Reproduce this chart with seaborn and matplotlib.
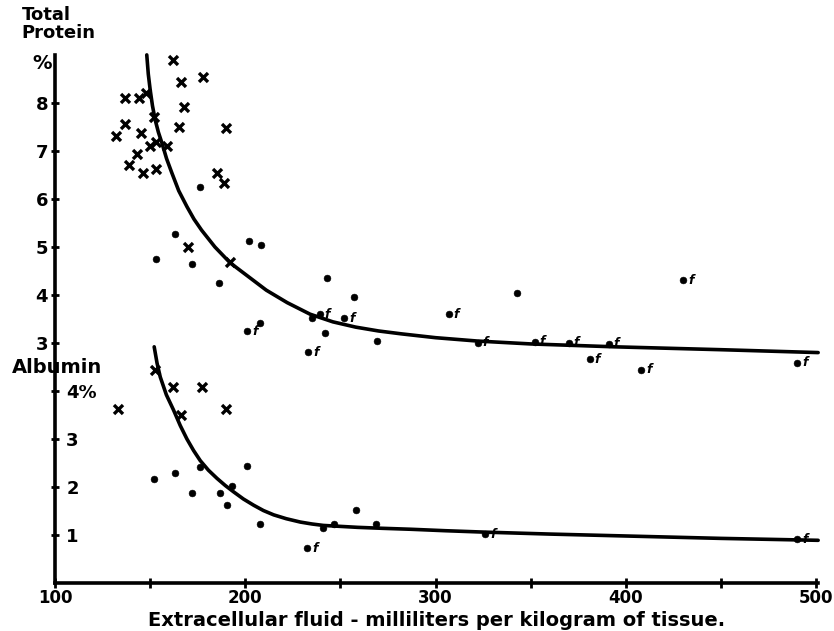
import pandas as pd
import seaborn as sns
import matplotlib.pyplot as plt
import matplotlib.transforms as mtransforms

# Total protein (%) - upper part of the chart
tp_cross_x = [162, 166, 178, 137, 144, 148, 168, 152, 137, 132, 145, 165, 190,
              150, 153, 159, 143, 139, 146, 153, 185, 189, 170, 192]
tp_cross_y = [8.9, 8.44, 8.54, 8.1, 8.1, 8.21, 7.92, 7.71, 7.56, 7.31, 7.38, 7.5, 7.48,
              7.1, 7.19, 7.1, 6.94, 6.71, 6.54, 6.63, 6.54, 6.33, 5.0, 4.69]
tp_dot_x = [176, 163, 153, 172, 186, 202, 208, 243, 257, 235, 242, 207.5, 269, 343]
tp_dot_y = [6.25, 5.27, 4.75, 4.65, 4.25, 5.13, 5.04, 4.35, 3.96, 3.53, 3.21, 3.41, 3.05, 4.04]
tp_f_x = [239, 252, 201, 233, 307, 322, 352, 370, 391, 381, 408, 430, 490]
tp_f_y = [3.6, 3.51, 3.24, 2.81, 3.6, 3.0, 3.03, 3.0, 2.98, 2.66, 2.44, 4.31, 2.59]
tp_curve_x = [148.2, 149, 150, 151.2, 152.6, 154.3, 156.2, 158.6, 161.4, 165, 169.3,
              173, 177, 184, 192, 200, 211, 222, 234, 246, 258, 270, 282, 300,
              322, 350, 394, 450, 501]
tp_curve_y = [9.0, 8.6, 8.27, 7.94, 7.65, 7.39, 7.16, 6.84, 6.54, 6.17, 5.84,
              5.58, 5.35, 5.0, 4.67, 4.43, 4.1, 3.84, 3.6, 3.44, 3.33, 3.25, 3.19, 3.11,
              3.04, 2.98, 2.92, 2.86, 2.80]

# Albumin (%) - lower part of the chart
alb_cross_x = [152.6, 162, 177, 133, 166, 190]
alb_cross_y = [4.44, 4.08, 4.08, 3.62, 3.5, 3.63]
alb_dot_x = [152, 163, 172, 176, 201, 186.5, 193, 190.4, 207.5, 241, 246.5, 258, 268.4]
alb_dot_y = [2.17, 2.29, 1.87, 2.42, 2.44, 1.88, 2.03, 1.63, 1.23, 1.14, 1.24, 1.52, 1.24]
alb_f_x = [232.5, 326, 490]
alb_f_y = [0.72, 1.02, 0.91]
alb_curve_x = [152.1, 153.6, 155.3, 158.5, 162.3, 165.8, 169.3, 172.8, 176.3, 180.6,
               185.1, 189.5, 193.8, 199, 204.4, 209.5, 214.9, 221.5, 228.9, 235, 241,
               250, 259, 272, 287, 305, 326, 360, 400, 450, 501]
alb_curve_y = [4.92, 4.58, 4.29, 3.92, 3.6, 3.28, 3.0, 2.76, 2.55, 2.35,
               2.18, 2.03, 1.9, 1.75, 1.62, 1.51, 1.42, 1.34, 1.27, 1.23, 1.2,
               1.18, 1.16, 1.14, 1.12, 1.09, 1.06, 1.02, 0.98, 0.93, 0.89]

x_ticks = [100, 200, 300, 400, 500]
x_minor = [150, 250, 350, 450]
tp_ticks = [3, 4, 5, 6, 7, 8]
alb_ticks = [1, 2, 3, 4]
alb_tick_labels = ['1', '2', '3', '4%']

sns.set_style('white')
plt.rcParams['font.family'] = ['DejaVu Sans']
plt.rcParams['font.weight'] = 'bold'
for key in ['text.color', 'axes.labelcolor', 'xtick.color', 'ytick.color', 'axes.edgecolor']:
    plt.rcParams[key] = 'black'

fig = plt.figure(figsize=(8.34, 6.31), dpi=100)
ax = fig.add_axes([0.066, 0.076, 0.915, 0.837])
ax2 = ax.twinx()

ink = 'black'


def draw(axis, cx, cy, dx, dy, fx, fy, lx, ly):
    sns.lineplot(x=lx, y=ly, ax=axis, color=ink, linewidth=2.6, sort=False,
                 estimator=None, clip_on=False, solid_joinstyle='round')
    sns.scatterplot(x=cx, y=cy, ax=axis, marker='x', s=42, color=ink,
                    linewidth=2.4, clip_on=False)
    sns.scatterplot(x=dx + fx, y=dy + fy, ax=axis, marker='o', s=24, color=ink,
                    edgecolor=ink, clip_on=False)
    for x, y in zip(fx, fy):
        axis.annotate('f', (x, y), xytext=(3.5, 0), textcoords='offset points',
                      fontsize=9, fontweight='bold', ha='left', va='center',
                      fontstyle='italic')


draw(ax2, tp_cross_x, tp_cross_y, tp_dot_x, tp_dot_y, tp_f_x, tp_f_y, tp_curve_x, tp_curve_y)
draw(ax, alb_cross_x, alb_cross_y, alb_dot_x, alb_dot_y, alb_f_x, alb_f_y, alb_curve_x, alb_curve_y)

# same vertical scale: total protein 3 sits where albumin 5 would be
ax.set_xlim(100, 501)
ax.set_ylim(0, 11.0)
ax2.set_ylim(-2, 9.0)

for s in ['top', 'right']:
    ax.spines[s].set_visible(False)
for s in ax2.spines.values():
    s.set_visible(False)
ax.spines['left'].set_linewidth(2.6)
ax.spines['bottom'].set_linewidth(2.6)

ax.set_xticks(x_ticks)
ax.set_xticks(x_minor, minor=True)
ax.set_xticklabels([str(v) for v in x_ticks])
ax.tick_params(axis='x', which='both', direction='inout', length=7, width=2,
               labelsize=12, pad=1, bottom=True)

ax.set_yticks(alb_ticks)
ax.set_yticklabels(alb_tick_labels)
ax.tick_params(axis='y', direction='inout', length=6, width=2, labelsize=13,
               pad=-11, left=True)
for lbl in ax.get_yticklabels():
    lbl.set_horizontalalignment('left')

ax2.yaxis.tick_left()
ax2.set_yticks(tp_ticks)
ax2.set_yticklabels([str(v) for v in tp_ticks])
ax2.tick_params(axis='y', direction='inout', length=6, width=2, labelsize=13,
                pad=2, left=True, right=False)

ax.set_xlabel('Extracellular fluid - milliliters per kilogram of tissue.',
              fontsize=14, fontweight='bold', labelpad=3)
ax.set_ylabel('')
ax2.set_ylabel('')

trans2 = mtransforms.blended_transform_factory(ax.transAxes, ax2.transData)
ax2.text(-0.004, 8.83, '%', transform=trans2, ha='right', va='center',
         fontsize=14, fontweight='bold')
fig.text(0.026, 0.99, 'Total\nProtein', ha='left', va='top', fontsize=13,
         fontweight='bold', linespacing=1.0)
trans1 = mtransforms.blended_transform_factory(ax.transAxes, ax.transData)
ax.text(-0.056, 4.48, 'Albumin', transform=trans1, ha='left', va='center',
        fontsize=14, fontweight='bold')

fig.savefig('out.png', dpi=100)
